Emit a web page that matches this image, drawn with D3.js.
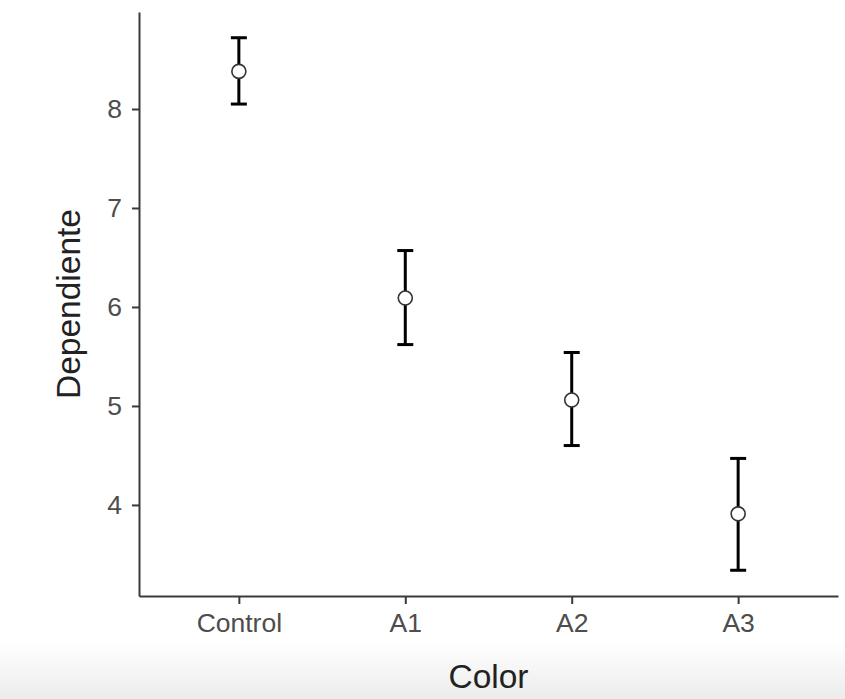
<!DOCTYPE html>
<html>
<head>
<meta charset="utf-8">
<script src="https://cdn.jsdelivr.net/npm/d3@7"></script>
<style>
    body { margin: 0; background: #fff; }
    svg { display: block; font-family: "Liberation Sans", Arial, sans-serif; }
</style>
</head>
<body>
<svg></svg>
<script>
const width = 845, height = 699;

// values
const categories = ["Control", "A1", "A2", "A3"];
const means = [8.38, 6.09, 5.06, 3.91];
const lower = [8.05, 5.62, 4.60, 3.34];
const upper = [8.72, 6.57, 5.54, 4.47];
const yTicks = [4, 5, 6, 7, 8];

const data = categories.map((c, i) => ({cat: c, mean: means[i], lo: lower[i], hi: upper[i]}));

const panel = {left: 139, right: 838, top: 12, bottom: 596};

const svg = d3.select('svg')
    .attr('width', width)
    .attr('height', height);

// light grey band along the bottom edge of the screenshot
const grad = svg.append('defs').append('linearGradient')
    .attr('id', 'fade').attr('x1', 0).attr('y1', 0).attr('x2', 0).attr('y2', 1);
grad.append('stop').attr('offset', '0%').attr('stop-color', '#ffffff');
grad.append('stop').attr('offset', '100%').attr('stop-color', '#ececec');
svg.append('rect')
    .attr('x', 0).attr('y', 642).attr('width', width).attr('height', height - 642)
    .attr('fill', 'url(#fade)');

const x = d3.scalePoint()
    .domain(categories)
    .range([panel.left, panel.right])
    .padding(0.6);

const y = d3.scaleLinear()
    .domain([3.08, 8.98])
    .range([panel.bottom, panel.top]);

// axes
const yAxis = svg.append('g')
    .attr('transform', `translate(${panel.left},0)`)
    .call(d3.axisLeft(y).tickValues(yTicks).tickFormat(d3.format('d'))
        .tickSize(7).tickPadding(10).tickSizeOuter(0));

const xAxis = svg.append('g')
    .attr('transform', `translate(0,${panel.bottom})`)
    .call(d3.axisBottom(x).tickSize(8).tickPadding(9).tickSizeOuter(0));

[yAxis, xAxis].forEach(function (g) {
    g.select('.domain').attr('stroke', '#3a3a3a').attr('stroke-width', 2);
    g.selectAll('.tick line').attr('stroke', '#3a3a3a').attr('stroke-width', 2);
    g.selectAll('.tick text').attr('fill', '#4d4d4d').style('font-size', '26.5px');
});

// axis titles
svg.append('text')
    .attr('x', (panel.left + panel.right) / 2)
    .attr('y', 688)
    .attr('text-anchor', 'middle')
    .style('font-size', '33.5px')
    .attr('fill', '#222')
    .text('Color');

svg.append('text')
    .attr('transform', `translate(80,${(panel.top + panel.bottom) / 2}) rotate(-90)`)
    .attr('text-anchor', 'middle')
    .style('font-size', '33.5px')
    .attr('fill', '#222')
    .text('Dependiente');

// error bars
const bars = svg.append('g')
    .selectAll('.bar')
    .data(data)
    .enter().append('g')
    .attr('class', 'bar')
    .attr('stroke', '#000')
    .attr('stroke-width', 3);

bars.append('line')
    .attr('x1', function (d) { return x(d.cat) })
    .attr('x2', function (d) { return x(d.cat) })
    .attr('y1', function (d) { return y(d.lo) })
    .attr('y2', function (d) { return y(d.hi) });

bars.append('line')
    .attr('x1', function (d) { return x(d.cat) - 8 })
    .attr('x2', function (d) { return x(d.cat) + 8 })
    .attr('y1', function (d) { return y(d.hi) })
    .attr('y2', function (d) { return y(d.hi) });

bars.append('line')
    .attr('x1', function (d) { return x(d.cat) - 8 })
    .attr('x2', function (d) { return x(d.cat) + 8 })
    .attr('y1', function (d) { return y(d.lo) })
    .attr('y2', function (d) { return y(d.lo) });

// means
svg.append('g')
    .selectAll('.point')
    .data(data)
    .enter().append('circle')
    .attr('class', 'point')
    .attr('cx', function (d) { return x(d.cat) })
    .attr('cy', function (d) { return y(d.mean) })
    .attr('r', 7)
    .attr('fill', '#fff')
    .attr('stroke', '#333')
    .attr('stroke-width', 1.6);
</script>
</body>
</html>
